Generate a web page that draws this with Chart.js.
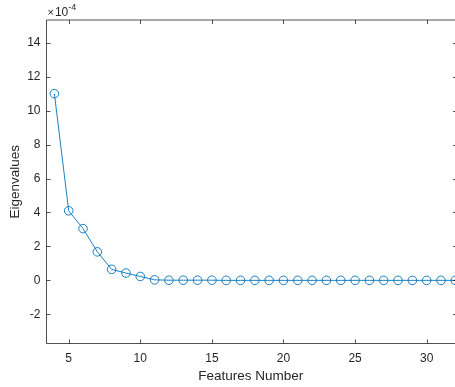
<!DOCTYPE html>
<html>
<head>
<meta charset="utf-8">
<script src="https://cdn.jsdelivr.net/npm/chart.js@4.4.1/dist/chart.umd.min.js"></script>
<style>
html,body{margin:0;padding:0;background:#fff;}
canvas{display:block;}
</style>
</head>
<body>
<canvas id="c" width="455" height="387"></canvas>
<script>
// ---- data ----
const featuresNumber = [4,5,6,7,8,9,10,11,12,13,14,15,16,17,18,19,20,21,22,23,24,25,26,27,28,29,30,31,32];
const eigenvalues = [11.0e-4,4.1e-4,3.05e-4,1.68e-4,0.65e-4,0.43e-4,0.23e-4,0.03e-4,0.01e-4,0.01e-4,0.01e-4,0.01e-4,0.0,0.0,0.0,0.0,0.0,0.0,0.0,0.0,0.0,0.0,0.0,0.0,0.0,0.0,0.0,0.0,0.0];
const xTickValues = [5,10,15,20,25,30];
const yTickValues = [-2e-4,0,2e-4,4e-4,6e-4,8e-4,10e-4,12e-4,14e-4];
const yExponent = -4;
const xTitle = 'Features Number';
const yTitle = 'Eigenvalues';
const xAxisMin = 3.45, xAxisVisibleMax = 31.98, xAxisMax = 32.12;
const yAxisMin = -3.72e-4, yAxisMax = 15.34e-4;

const FONT = '"Liberation Sans", Arial, Helvetica, sans-serif';
const TXT = '#262626';
const AX = '#262626';
const LINE = '#0072BD';

const boxPlugin = {
  id: 'matlabBox',
  afterDatasetsDraw(chart) {
    const ctx = chart.ctx;
    const a = chart.chartArea;
    const xs = chart.scales.x, ys = chart.scales.y;
    const right = xs.getPixelForValue(xAxisMax);
    ctx.save();
    ctx.strokeStyle = AX;
    ctx.lineWidth = 1;
    ctx.globalAlpha = 0.8;
    ctx.beginPath();
    ctx.rect(a.left, a.top, right - a.left, a.bottom - a.top);
    ctx.stroke();
    const tl = 4;
    ctx.beginPath();
    xTickValues.forEach(v => {
      const px = Math.round(xs.getPixelForValue(v)) + 0.5;
      ctx.moveTo(px, a.bottom); ctx.lineTo(px, a.bottom - tl);
      ctx.moveTo(px, a.top); ctx.lineTo(px, a.top + tl);
    });
    yTickValues.forEach(v => {
      const py = Math.round(ys.getPixelForValue(v)) + 0.5;
      ctx.moveTo(a.left, py); ctx.lineTo(a.left + tl, py);
      ctx.moveTo(right, py); ctx.lineTo(right - tl, py);
    });
    ctx.stroke();
    ctx.globalAlpha = 1;
    // exponent label
    ctx.fillStyle = TXT;
    ctx.textBaseline = 'alphabetic';
    ctx.textAlign = 'left';
    let x = a.left + 1;
    ctx.font = '11px ' + FONT;
    ctx.fillText('\u00d7', x, 16);
    x += ctx.measureText('\u00d7').width + 1;
    ctx.font = '12px ' + FONT;
    ctx.fillText('10', x, 16);
    x += ctx.measureText('10').width;
    ctx.font = '9px ' + FONT;
    ctx.fillText('-' + Math.abs(yExponent), x, 10);
    ctx.restore();
  }
};

new Chart(document.getElementById('c'), {
  type: 'line',
  data: {
    datasets: [{
      data: featuresNumber.map((f, i) => ({x: f, y: eigenvalues[i]})),
      borderColor: LINE,
      borderWidth: 0.9,
      backgroundColor: 'rgba(0,0,0,0)',
      pointBackgroundColor: 'rgba(0,0,0,0)',
      pointBorderColor: LINE,
      pointBorderWidth: 0.9,
      pointRadius: 4.3,
      tension: 0,
      fill: false,
      clip: {left: 5, top: 5, right: 5, bottom: 5}
    }]
  },
  options: {
    responsive: false,
    animation: false,
    devicePixelRatio: 1,
    layout: {autoPadding: false, padding: {top: 20, right: 0, left: 0, bottom: 0}},
    plugins: {legend: {display: false}, tooltip: {enabled: false}},
    scales: {
      x: {
        type: 'linear',
        min: xAxisMin,
        max: xAxisVisibleMax,
        afterBuildTicks: s => { s.ticks = xTickValues.map(v => ({value: v})); },
        afterFit: s => { s.height = 43.5; s.paddingLeft = 0; s.paddingRight = 0; },
        grid: {display: false, drawTicks: false},
        border: {display: false},
        ticks: {color: TXT, font: {family: FONT, size: 12}, padding: 8, maxRotation: 0, autoSkip: false},
        title: {display: true, text: xTitle, color: TXT, font: {family: FONT, size: 13.5}, padding: {top: 0, bottom: 3}}
      },
      y: {
        type: 'linear',
        min: yAxisMin,
        max: yAxisMax,
        afterBuildTicks: s => { s.ticks = yTickValues.map(v => ({value: v})); },
        afterFit: s => { s.width = 46.5; s.paddingTop = 0; s.paddingBottom = 0; },
        grid: {display: false, drawTicks: false},
        border: {display: false},
        ticks: {color: TXT, font: {family: FONT, size: 12}, padding: 6, autoSkip: false,
          callback: v => String(Math.round(v / Math.pow(10, yExponent)))},
        title: {display: true, text: yTitle, color: TXT, font: {family: FONT, size: 13.5}, padding: {top: 7, bottom: 0}}
      }
    }
  },
  plugins: [boxPlugin]
});
</script>
</body>
</html>
